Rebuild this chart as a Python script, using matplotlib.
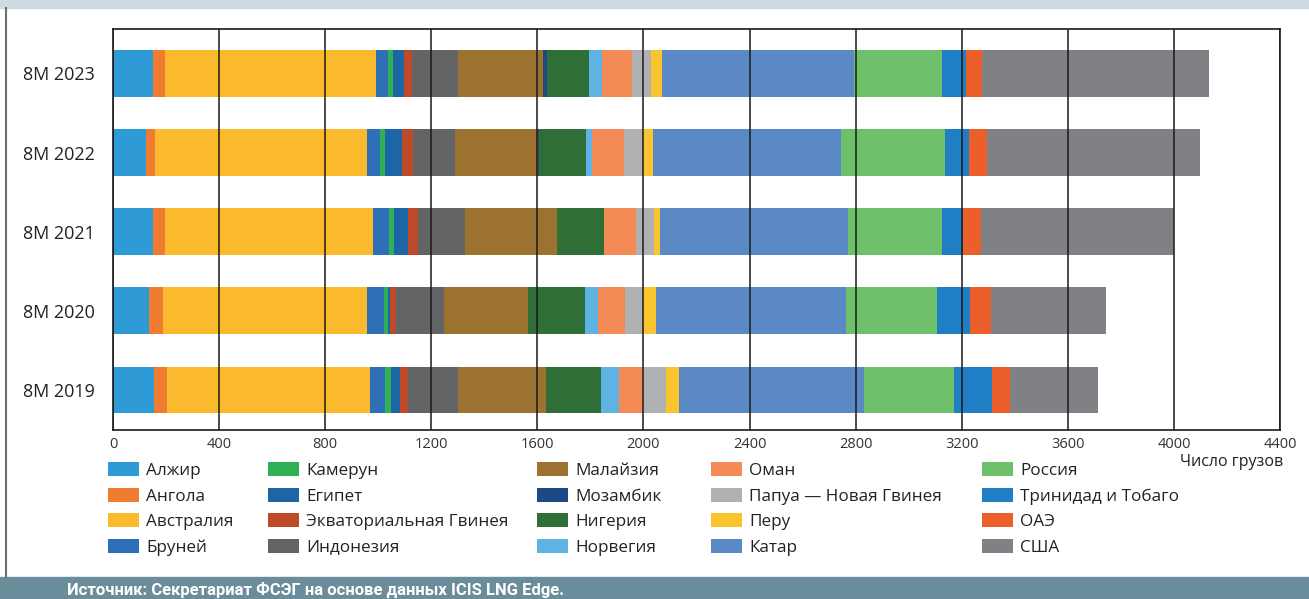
import numpy as np
import matplotlib
matplotlib.use("Agg")
import matplotlib.pyplot as plt
from matplotlib.patches import Rectangle, Patch
from matplotlib.lines import Line2D

plt.rcParams['font.family'] = ['Open Sans', 'DejaVu Sans']

# periods, bottom to top
periods = ["8M 2019", "8M 2020", "8M 2021", "8M 2022", "8M 2023"]

# exporters in stacking order (also legend order, column by column)
countries = ["Алжир", "Ангола", "Австралия", "Бруней",
             "Камерун", "Египет", "Экваториальная Гвинея", "Индонезия",
             "Малайзия", "Мозамбик", "Нигерия", "Норвегия",
             "Оман", "Папуа — Новая Гвинея", "Перу", "Катар",
             "Россия", "Тринидад и Тобаго", "ОАЭ", "США"]

# number of cargoes per period (2019, 2020, 2021, 2022, 2023)
algeria = [155, 134, 152, 123, 152]
angola = [47, 54, 43, 36, 43]
australia = [768, 768, 787, 798, 797]
brunei = [55, 65, 58, 49, 43]
cameroon = [22, 14, 18, 19, 22]
egypt = [36, 8, 54, 65, 39]
eq_guinea = [29, 25, 39, 41, 33]
indonesia = [188, 180, 178, 158, 173]
malaysia = [332, 318, 346, 314, 321]
mozambique = [0, 0, 0, 5, 14]
nigeria = [209, 214, 178, 175, 156]
norway = [65, 50, 0, 22, 49]
oman = [94, 102, 118, 123, 113]
png = [86, 67, 67, 72, 75]
peru = [47, 47, 24, 36, 40]
qatar = [700, 719, 708, 709, 725]
russia = [339, 343, 357, 392, 330]
trinidad = [141, 125, 76, 90, 92]
uae = [70, 79, 70, 70, 58]
usa = [331, 432, 727, 801, 859]

series = [algeria, angola, australia, brunei,
          cameroon, egypt, eq_guinea, indonesia,
          malaysia, mozambique, nigeria, norway,
          oman, png, peru, qatar,
          russia, trinidad, uae, usa]

colors = ['#2e9bd6', '#f07c31', '#fbb92e', '#2f6fb8',
          '#2fb055', '#1d66a6', '#bf4a2a', '#636466',
          '#9c7230', '#1d4a86', '#2f6e36', '#5fb3e3',
          '#f48a55', '#b0b1b3', '#fac42f', '#5b89c6',
          '#6fc06b', '#1f7ec4', '#ec5f2a', '#808184']

x_ticks = np.arange(0, 4401, 400)

W, H = 1309, 599
fig = plt.figure(figsize=(W / 100, H / 100), dpi=100)

# header / footer bands and left frame line
fig.patches.append(Rectangle((0, 1 - 8 / H), 1, 8 / H, transform=fig.transFigure,
                             color='#cfdbe3', zorder=0))
fig.patches.append(Rectangle((0, 0), 1, 22 / H, transform=fig.transFigure,
                             color='#6b8c9a', zorder=0))
fig.lines.append(Line2D([6 / W, 6 / W], [22 / H, 1 - 8 / H], transform=fig.transFigure,
                        color='#6e6e6e', lw=1.5))

ax = fig.add_axes([113 / W, 1 - 430 / H, 1167 / W, 401 / H])

y = np.arange(len(periods))
left = np.zeros(len(periods))
for name, vals, col in zip(countries, series, colors):
    vals = np.array(vals, dtype=float)
    ax.barh(y, vals, left=left, height=0.59, color=col, label=name, zorder=1)
    left += vals

ax.set_xlim(0, 4400)
ax.set_ylim(-0.505, 4.56)
ax.set_xticks(x_ticks)
ax.set_xticklabels([str(t) for t in x_ticks])
ax.set_yticks(y)
ax.set_yticklabels(periods)

ax.set_axisbelow(False)
ax.grid(axis='x', color='#1a1a1a', lw=1.1)
ax.grid(axis='y', visible=False)
for s in ax.spines.values():
    s.set_color('#1a1a1a')
    s.set_linewidth(1.2)

ax.tick_params(axis='x', length=0, pad=5, labelsize=10.5, labelcolor='#333333')
ax.tick_params(axis='y', length=0, pad=13, labelsize=13, labelcolor='#222222')

fig.text(1283 / W, 1 - 462 / H, "Число грузов", ha='right', va='center',
         fontsize=11.5, color='#222222')

# legend: five columns, each its own legend
col_x = [108, 268, 537, 711, 982]
for c in range(5):
    handles = [Patch(facecolor=colors[4 * c + r], edgecolor='none') for r in range(4)]
    labels = countries[4 * c: 4 * c + 4]
    fig.legend(handles, labels, loc='upper left',
               bbox_to_anchor=(col_x[c] / W, 1 - 462 / H),
               frameon=False, fontsize=12.3, handlelength=1.82, handleheight=0.9,
               handletextpad=0.42, labelspacing=0.5, borderpad=0, borderaxespad=0,
               labelcolor='#222222')

fig.text(67 / W, 1 - 590 / H, "Источник: Секретариат ФСЭГ на основе данных ICIS LNG Edge.",
         ha='left', va='center', fontsize=12, fontweight='bold', color='white',
         family=['Roboto', 'DejaVu Sans'])

fig.savefig("out.png", dpi=100)
